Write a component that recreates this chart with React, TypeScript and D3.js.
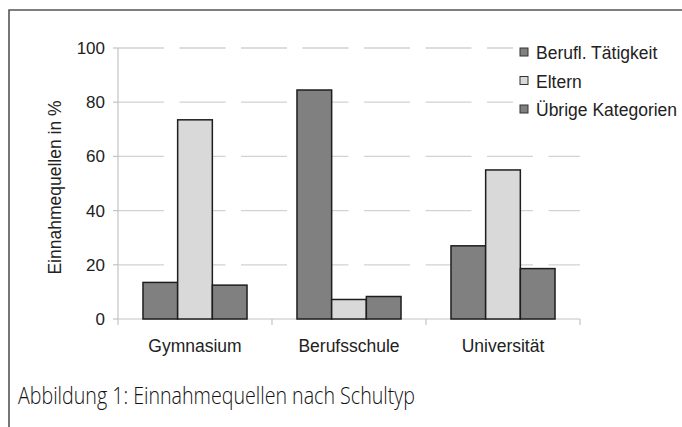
import React, { useEffect, useRef } from 'react';
import * as d3 from 'd3';

// Data
const categories = ['Gymnasium', 'Berufsschule', 'Universität'];
const seriesNames = ['Berufl. Tätigkeit', 'Eltern', 'Übrige Kategorien'];
const beruflValues = [13.5, 84.5, 27];
const elternValues = [73.5, 7.2, 55];
const uebrigeValues = [12.5, 8.3, 18.6];
const yTicks = [0, 20, 40, 60, 80, 100];
const seriesColors = ['#808080', '#d9d9d9', '#808080'];

const WIDTH = 682;
const HEIGHT = 427;
const FONT = '"Liberation Sans", Arial, sans-serif';

function App() {
  const svgRef = useRef<SVGSVGElement>(null);

  useEffect(() => {
    const svg = d3.select(svgRef.current);
    svg.selectAll('*').remove();

    const margin = { top: 48, right: 102, bottom: 108, left: 118 };
    const x0 = margin.left;
    const x1 = WIDTH - margin.right;
    const yBottom = HEIGHT - margin.bottom;

    const seriesValues = [beruflValues, elternValues, uebrigeValues];
    const rows = categories.map((c, i) => ({
      category: c,
      values: seriesNames.map((s, j) => ({ series: s, value: seriesValues[j][i], color: seriesColors[j] }))
    }));

    const x = d3.scaleBand().domain(categories).range([x0, x1]).paddingInner(0).paddingOuter(0);
    const xSub = d3.scaleBand().domain(seriesNames).range([0, x.bandwidth()]).paddingInner(0).paddingOuter(0.72);
    const y = d3.scaleLinear().domain([0, 100]).range([yBottom, margin.top]);

    // outer frame (only left and top visible)
    svg.append('path')
      .attr('d', `M9,${HEIGHT + 5} L9,10 L${WIDTH + 5},10`)
      .attr('fill', 'none')
      .attr('stroke', '#555')
      .attr('stroke-width', 1.6);

    // dashed gridlines
    svg.append('g')
      .selectAll('line')
      .data(yTicks.filter(t => t > 0))
      .enter()
      .append('line')
      .attr('x1', x0)
      .attr('x2', x1)
      .attr('y1', d => y(d))
      .attr('y2', d => y(d))
      .attr('stroke', '#d2d2d2')
      .attr('stroke-width', 1.3)
      .attr('stroke-dasharray', '46 15.5');

    // y axis line + ticks
    const axisColor = '#c4c4c4';
    svg.append('line')
      .attr('x1', x0).attr('x2', x0)
      .attr('y1', y(100)).attr('y2', yBottom)
      .attr('stroke', axisColor).attr('stroke-width', 1.2);
    svg.append('g')
      .selectAll('line')
      .data(yTicks)
      .enter()
      .append('line')
      .attr('x1', x0 - 5).attr('x2', x0)
      .attr('y1', d => y(d)).attr('y2', d => y(d))
      .attr('stroke', axisColor).attr('stroke-width', 1.2);

    svg.append('g')
      .selectAll('text')
      .data(yTicks)
      .enter()
      .append('text')
      .attr('x', x0 - 13)
      .attr('y', d => y(d) + 6)
      .attr('text-anchor', 'end')
      .attr('font-family', FONT)
      .attr('font-size', '17px')
      .attr('fill', '#222')
      .text(d => d);

    // x axis baseline + ticks at category borders
    svg.append('line')
      .attr('x1', x0).attr('x2', x1)
      .attr('y1', yBottom).attr('y2', yBottom)
      .attr('stroke', axisColor).attr('stroke-width', 1.2);
    const borders = categories.map(c => x(c) as number).concat([x1]);
    svg.append('g')
      .selectAll('line')
      .data(borders)
      .enter()
      .append('line')
      .attr('x1', d => d).attr('x2', d => d)
      .attr('y1', yBottom).attr('y2', yBottom + 6)
      .attr('stroke', axisColor).attr('stroke-width', 1.2);

    // bars
    const groups = svg.append('g')
      .selectAll('g')
      .data(rows)
      .enter()
      .append('g')
      .attr('transform', d => `translate(${x(d.category)},0)`);

    groups.selectAll('rect')
      .data(d => d.values)
      .enter()
      .append('rect')
      .attr('x', d => xSub(d.series) as number)
      .attr('y', d => y(d.value))
      .attr('width', xSub.bandwidth())
      .attr('height', d => yBottom - y(d.value))
      .attr('fill', d => d.color)
      .attr('stroke', '#1e1e1e')
      .attr('stroke-width', 1.5);

    // category labels
    svg.append('g')
      .selectAll('text')
      .data(categories)
      .enter()
      .append('text')
      .attr('x', d => (x(d) as number) + x.bandwidth() / 2)
      .attr('y', yBottom + 33)
      .attr('text-anchor', 'middle')
      .attr('font-family', FONT)
      .attr('font-size', '17.5px')
      .attr('fill', '#222')
      .text(d => d);

    // y axis title
    svg.append('text')
      .attr('transform', `translate(61, ${(margin.top + yBottom) / 2 + 4}) rotate(-90)`)
      .attr('text-anchor', 'middle')
      .attr('font-family', FONT)
      .attr('font-size', '17.5px')
      .attr('fill', '#222')
      .text('Einnahmequellen in %');

    // legend (white box hides gridlines behind it)
    const legend = svg.append('g').attr('transform', 'translate(513, 36)');
    legend.append('rect')
      .attr('width', WIDTH - 513)
      .attr('height', 92)
      .attr('fill', '#fff');

    const items = legend.selectAll('g.item')
      .data(seriesNames)
      .enter()
      .append('g')
      .attr('class', 'item')
      .attr('transform', (d, i) => `translate(0, ${23 + i * 28.5})`);

    items.append('rect')
      .attr('x', 7)
      .attr('y', -11)
      .attr('width', 8)
      .attr('height', 8)
      .attr('fill', (d, i) => seriesColors[i])
      .attr('stroke', '#333')
      .attr('stroke-width', 1);

    items.append('text')
      .attr('x', 23)
      .attr('y', 0)
      .attr('font-family', FONT)
      .attr('font-size', '17.5px')
      .attr('fill', '#222')
      .text(d => d);

    // caption
    svg.append('text')
      .attr('x', 18)
      .attr('y', 404)
      .attr('font-family', '"Open Sans", "Noto Sans", sans-serif')
      .attr('font-size', '23px')
      .attr('font-weight', 300)
      .attr('fill', '#111')
      .attr('textLength', 397)
      .attr('lengthAdjust', 'spacingAndGlyphs')
      .text('Abbildung 1: Einnahmequellen nach Schultyp');
  }, []);

  return (
    <div style={{ position: 'fixed', left: 0, top: 0, width: WIDTH, height: HEIGHT, background: '#fff' }}>
      <svg ref={svgRef} width={WIDTH} height={HEIGHT} style={{ display: 'block' }} />
    </div>
  );
}

export default App;
